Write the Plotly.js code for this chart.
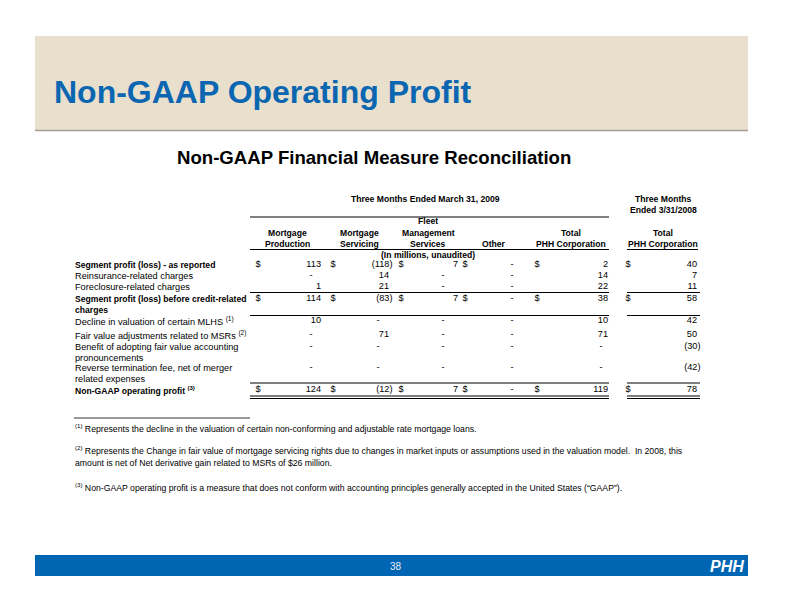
<!DOCTYPE html>
<html><head><meta charset="utf-8">
<script src="https://cdn.plot.ly/plotly-3.0.1.min.js"></script>
<style>html,body{margin:0;padding:0;background:#fff}</style>
</head><body><div id="chart" style="width:792px;height:612px"></div>
<script>
// ---------- data ----------
const slideTitle = "Non-GAAP Operating Profit";
const tableTitle = "Non-GAAP Financial Measure Reconciliation";
const periodHeader2009 = "Three Months Ended March 31, 2009";
const periodHeader2008 = "Three Months<br>Ended 3/31/2008";
const unitsNote = "(In millions, unaudited)";
const columnHeaders = ["Mortgage<br>Production", "Mortgage<br>Servicing", "Fleet<br>Management<br>Services", "Other", "Total<br>PHH Corporation", "Total<br>PHH Corporation"];
const rowLabels = [
  "Segment profit (loss) - as reported",
  "Reinsurance-related charges",
  "Foreclosure-related charges",
  "Segment profit (loss) before credit-related<br>charges",
  "Decline in valuation of certain MLHS <sup>(1)</sup>",
  "Fair value adjustments related to MSRs <sup>(2)</sup>",
  "Benefit of adopting fair value accounting<br>pronouncements",
  "Reverse termination fee, net of merger<br>related expenses",
  "Non-GAAP operating profit <sup>(3)</sup>"
];
const boldRows = [true, false, false, true, false, false, false, false, true];
const dollarRows = [true, false, false, true, false, false, false, false, true];
const mortgageProduction = [113, null, 1, 114, 10, null, null, null, 124];
const mortgageServicing = [-118, 14, 21, -83, null, 71, null, null, -12];
const fleetManagement = [7, null, null, 7, null, null, null, null, 7];
const otherSegment = [null, null, null, null, null, null, null, null, null];
const totalPHH2009 = [2, 14, 22, 38, 10, 71, null, null, 119];
const totalPHH2008 = [40, 7, 11, 58, 42, 50, -30, -42, 78];
const footnotes = [
  "<sup>(1)</sup> Represents the decline in the valuation of certain non-conforming and adjustable rate mortgage loans.",
  "<sup>(2)</sup> Represents the Change in fair value of mortgage servicing rights due to changes in market inputs or assumptions used in the valuation model.  In 2008, this<br>amount is net of Net derivative gain related to MSRs of $26 million.",
  "<sup>(3)</sup> Non-GAAP operating profit is a measure that does not conform with accounting principles generally accepted in the United States (\u201cGAAP\u201d)."
];
const pageNumber = "38";
const logoText = "PHH";

// ---------- layout constants ----------
const FONT = "Liberation Sans, Arial, sans-serif";
const REG = 9.2, BOLD = 8.6, FOOT = 8.7;
const rowY = [265, 276, 287, 299, 321, 335, 347, 368, 390];
const rowLineGap = 10.5;
const footY = [428, 450, 487];
const footLineGap = 12.5;
const colDollarX = [258, 333, 401, 465, 537, 628];
const colRightX = [321, 389, 458, 514, 608, 697];
const colDashX = [311, 378, 443, 512, 601, 690];
const colHeadX = [287, 359, 428, 494, 571, 663];
const headerBottomY = 244, headerLineGap = 11.5;
const series = [mortgageProduction, mortgageServicing, fleetManagement, otherSegment, totalPHH2009, totalPHH2008];

const traces = [];
series.forEach((vals, c) => {
  const xs = [], ys = [], txt = [], pos = [];
  vals.forEach((v, r) => {
    if (v === null) { xs.push(colDashX[c]); txt.push("-"); pos.push("middle center"); }
    else if (v < 0) { xs.push(colRightX[c] + 3.5); txt.push("(" + Math.abs(v) + ")"); pos.push("middle left"); }
    else { xs.push(colRightX[c]); txt.push(String(v)); pos.push("middle left"); }
    ys.push(rowY[r]);
  });
  traces.push({type: "scatter", mode: "text", x: xs, y: ys, text: txt, textposition: pos,
    textfont: {family: FONT, size: REG, color: "#000"}, hoverinfo: "skip", showlegend: false});
  const dx = [], dy = [];
  dollarRows.forEach((d, r) => { if (d) { dx.push(colDollarX[c]); dy.push(rowY[r]); } });
  traces.push({type: "scatter", mode: "text", x: dx, y: dy, text: dx.map(() => "$"), textposition: "middle center",
    textfont: {family: FONT, size: REG, color: "#000"}, hoverinfo: "skip", showlegend: false});
});

const annotations = [];
function ann(text, x, y, opts) {
  annotations.push(Object.assign({text: text, x: x, y: y, xref: "x", yref: "y", showarrow: false,
    xanchor: "left", yanchor: "middle", borderpad: 0, font: {family: FONT, size: REG, color: "#000"}}, opts || {}));
}
function boldFont(size) { return {family: FONT, size: size || BOLD, color: "#000", weight: "bold"}; }

ann(slideTitle, 53, 92, {font: {family: FONT, size: 32, color: "#0B66B2", weight: "bold"}});
ann(tableTitle, 374, 157, {xanchor: "center", font: boldFont(18.6)});
ann(periodHeader2009, 425, 199, {xanchor: "center", font: boldFont()});
periodHeader2008.split("<br>").forEach((t, i) => ann(t, 663, 199 + i * 11, {xanchor: "center", font: boldFont()}));
ann(unitsNote, 428, 255, {xanchor: "center", font: boldFont()});
columnHeaders.forEach((h, c) => {
  const lines = h.split("<br>");
  lines.forEach((t, i) => {
    ann(t, colHeadX[c], headerBottomY - (lines.length - 1 - i) * headerLineGap, {xanchor: "center", font: boldFont()});
  });
});
rowLabels.forEach((l, r) => {
  l.split("<br>").forEach((t, i) => {
    ann(t, 74, rowY[r] + i * rowLineGap, {font: boldRows[r] ? boldFont() : {family: FONT, size: REG, color: "#000"}});
  });
});
footnotes.forEach((f, i) => {
  f.split("<br>").forEach((t, j) => {
    ann(t, 74, footY[i] + j * footLineGap, {font: {family: FONT, size: FOOT, color: "#000"}});
  });
});
ann(pageNumber, 396, 566, {xanchor: "center", font: {family: FONT, size: 10, color: "#E8EEF6"}});
ann(logoText, 745, 566, {xanchor: "right", font: {family: FONT, size: 16, color: "#FFFFFF", weight: "bold", style: "italic"}});

function hline(x0, x1, y, w) {
  return {type: "line", xref: "x", yref: "y", x0: x0, x1: x1, y0: y, y1: y, line: {color: "#000", width: w || 1}};
}
const shapes = [
  {type: "rect", xref: "x", yref: "y", x0: 35, x1: 748, y0: 36, y1: 130, fillcolor: "#E9DFCD", line: {width: 0}, layer: "below"},
  {type: "line", xref: "x", yref: "y", x0: 35, x1: 748, y0: 130.5, y1: 130.5, line: {color: "#A59E90", width: 1.5}},
  {type: "rect", xref: "x", yref: "y", x0: 35, x1: 748, y0: 555, y1: 576, fillcolor: "#0066B3", line: {width: 0}, layer: "below"},
  hline(250, 609, 217),
  hline(250, 609, 249.5), hline(627, 698, 249.5),
  hline(250, 609, 292.5), hline(627, 700, 292.5),
  hline(250, 609, 315.5), hline(627, 700, 315.5),
  hline(250, 609, 383), hline(627, 700, 383),
  hline(250, 609, 396), hline(627, 700, 396),
  hline(250, 609, 398.5), hline(627, 700, 398.5),
  hline(74, 250, 418, 0.8)
];

const layout = {
  width: 792, height: 612, margin: {l: 0, r: 0, t: 0, b: 0},
  paper_bgcolor: "#fff", plot_bgcolor: "#fff",
  xaxis: {range: [0, 792], visible: false, fixedrange: true},
  yaxis: {range: [612, 0], visible: false, fixedrange: true},
  shapes: shapes, annotations: annotations, showlegend: false
};
Plotly.newPlot("chart", traces, layout, {staticPlot: true, displayModeBar: false});
</script></body></html>
